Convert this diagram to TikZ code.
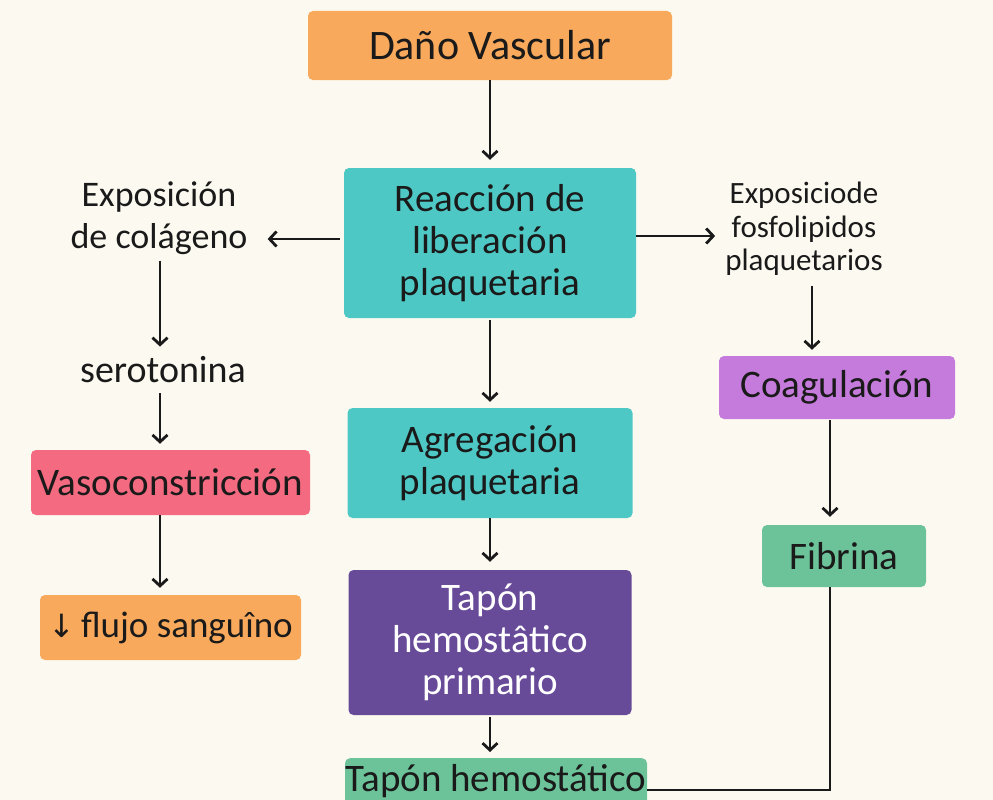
\documentclass[tikz,border=0pt]{standalone}
\usepackage{fontspec}
\setmainfont{Carlito}
\newfontfamily\symfont{DejaVu Sans}
\usetikzlibrary{arrows.meta}
\definecolor{bgc}{HTML}{FCFAF0}
\definecolor{orangec}{HTML}{F8A95C}
\definecolor{tealc}{HTML}{4EC8C5}
\definecolor{pinkc}{HTML}{F46A80}
\definecolor{lilacc}{HTML}{C57BDB}
\definecolor{greenc}{HTML}{6DC399}
\definecolor{purplec}{HTML}{684B98}
\definecolor{inkc}{HTML}{1A1A1A}
\begin{document}
\begin{tikzpicture}[x=1pt,y=-1pt,
  box/.style={rectangle, rounded corners=5pt, draw=none, align=center, inner sep=0pt,
    font=\fontsize{39}{42}\selectfont, text=inkc},
  plain/.style={align=center, inner sep=0pt, text=inkc},
  arr/.style={-{Straight Barb[length=7pt,width=15pt,line width=2.8pt]}, line width=2.8pt, draw=inkc},
  link/.style={line width=2.8pt, draw=inkc}]
\fill[bgc] (0,0) rectangle (993,800);
\useasboundingbox (0,0) rectangle (993,800);
\clip (0,0) rectangle (993,800);

\coordinate (lx) at (160,0);
\coordinate (rx) at (812,0);
\coordinate (fx) at (830,0);
\coordinate (ly) at (0,239);
\coordinate (ry) at (0,236);
\coordinate (by) at (0,790);

\node[box, fill=orangec, minimum width=364, minimum height=69, font=\fontsize{42}{44}\selectfont] (dano) at (490,45.5) {Daño Vascular};
\node[box, fill=tealc, minimum width=292, minimum height=150] (reac) at (490,243) {Reacción de\\liberación\\plaquetaria};
\node[box, fill=tealc, minimum width=285, minimum height=110] (agreg) at (490,463) {Agregación\\plaquetaria};
\node[box, fill=purplec, text=white, minimum width=283, minimum height=145] (tap1) at (490,642.5) {Tapón\\hemostâtico\\primario};
\node[box, fill=greenc, minimum width=302, minimum height=0, text height=33, text depth=24, anchor=north] (tap2) at (496,758) {Tapón hemostático};

\node[plain, font=\fontsize{36}{42}\selectfont] (expo) at (159,218) {Exposición\\de colágeno};
\node[plain, font=\fontsize{38}{42}\selectfont] (sero) at (163,370) {serotonina};
\node[box, fill=pinkc, minimum width=279, minimum height=65] (vaso) at (170.5,482.5) {Vasoconstricción};
\node[box, fill=orangec, minimum width=261, minimum height=65, font=\fontsize{37}{42}\selectfont] (flujo) at (170.5,627.5) {{\symfont\fontsize{32}{42}\selectfont ↓}\,flujo sanguîno};

\node[plain, font=\fontsize{31}{33.5}\selectfont] (fosfo) at (804,229) {Exposiciode\\fosfolipidos\\plaquetarios};
\node[box, fill=lilacc, minimum width=236, minimum height=63] (coag) at (837,387.5) {Coagulación};
\node[box, fill=greenc, minimum width=164, minimum height=62] (fib) at (844,556) {Fibrina};

% connectors
\draw[arr, shorten >=8pt] (dano.south) -- (reac.north);
\draw[arr, shorten <=2pt, shorten >=6pt] (reac.south) -- (agreg.north);
\draw[arr, shorten >=8pt] (agreg.south) -- (tap1.north);
\draw[arr, shorten <=2pt, shorten >=6pt] (tap1.south) -- (tap2.north -| tap1.south);

\draw[arr, shorten <=4pt, shorten >=20pt] (reac.west |- ly) -- (expo.east |- ly);
\draw[arr, shorten <=6pt, shorten >=10pt] (expo.south -| lx) -- (sero.north -| lx);
\draw[arr, shorten <=10pt, shorten >=6pt] (sero.south -| lx) -- (vaso.north -| lx);
\draw[arr, shorten >=7pt] (vaso.south -| lx) -- (flujo.north -| lx);

\draw[arr, shorten >=10pt] (reac.east |- ry) -- (fosfo.west |- ry);
\draw[arr, shorten <=10pt, shorten >=6pt] (fosfo.south -| rx) -- (coag.north -| rx);
\draw[arr, shorten <=1pt, shorten >=8pt] (coag.south -| fx) -- (fib.north -| fx);
\draw[link] (fib.south -| fx) -- (fx |- by) -- (tap2.east |- by);
\end{tikzpicture}
\end{document}
